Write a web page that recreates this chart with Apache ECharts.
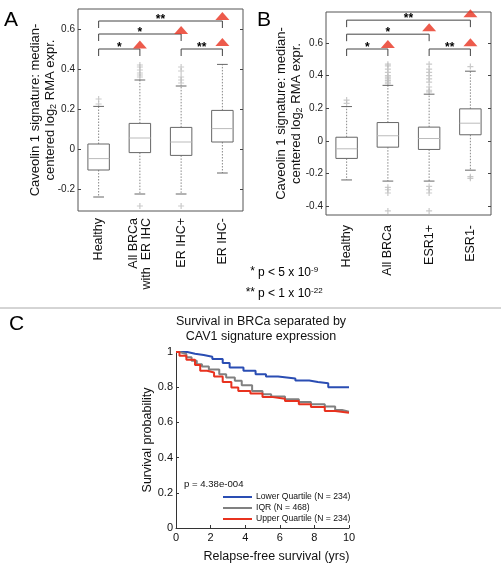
<!DOCTYPE html>
<html><head><meta charset="utf-8">
<script src="https://cdn.jsdelivr.net/npm/echarts@6/dist/echarts.min.js"></script>
<style>html,body{margin:0;padding:0;background:#fff}#c{width:501px;height:570px}</style>
</head><body><div id="c"></div>
<script>
// ---------- DATA ----------
const catsA = ['Healthy', 'All BRCa\nwith  ER IHC', 'ER IHC+', 'ER IHC-'];
const catsB = ['Healthy', 'All BRCa', 'ESR1+', 'ESR1-'];
// [whiskerLow, Q1, median, Q3, whiskerHigh]
const boxA = [
  [-0.24, -0.105, -0.048, 0.025, 0.213],
  [-0.225, -0.018, 0.055, 0.128, 0.345],
  [-0.225, -0.032, 0.035, 0.108, 0.315],
  [-0.12, 0.035, 0.102, 0.193, 0.423]
];
const boxB = [
  [-0.24, -0.108, -0.049, 0.022, 0.21],
  [-0.247, -0.039, 0.031, 0.112, 0.34],
  [-0.247, -0.053, 0.014, 0.084, 0.286],
  [-0.18, 0.037, 0.108, 0.196, 0.427]
];
const outliersA = [[0,0.25],[0,0.225],[1,0.36],[1,0.37],[1,0.38],[1,0.395],[1,0.41],[1,0.42],[1,-0.285],
  [2,0.33],[2,0.345],[2,0.36],[2,0.39],[2,0.41],[2,-0.285]];
const outliersB = [[0,0.25],[0,0.23],
  [1,0.35],[1,0.36],[1,0.37],[1,0.38],[1,0.39],[1,0.40],[1,0.42],[1,0.44],[1,0.46],[1,0.47],[1,-0.285],[1,-0.30],[1,-0.32],[1,-0.43],
  [2,0.30],[2,0.31],[2,0.33],[2,0.36],[2,0.38],[2,0.40],[2,0.42],[2,0.44],[2,0.47],[2,-0.28],[2,-0.30],[2,-0.32],[2,-0.43],
  [3,0.455],[3,-0.22],[3,-0.23]];
// [fromCat, toCat, level, stars]
const bracketsA = [[0,1,0.5,'*'],[0,2,0.575,'*'],[0,3,0.64,'**'],[2,3,0.5,'**']];
const bracketsB = [[0,1,0.563,'*'],[0,2,0.654,'*'],[0,3,0.74,'**'],[2,3,0.563,'**']];
const upMarksA = [[1,0.522],[2,0.595],[3,0.665],[3,0.535]];
const upMarksB = [[1,0.593],[2,0.697],[3,0.783],[3,0.605]];
const yTicksA = [-0.2, 0, 0.2, 0.4, 0.6];
const yTicksB = [-0.4, -0.2, 0, 0.2, 0.4, 0.6];
// Kaplan-Meier curves [years, survival]
const lowerQuartile = [[0,1],[0.65,0.99],[1.1,0.983],[1.6,0.973],[2.1,0.96],[2.7,0.937],[3.1,0.912],[3.9,0.893],[4.6,0.874],[5.2,0.861],[5.9,0.85],[6.9,0.838],[7.7,0.83],[8.2,0.823],[8.8,0.80],[10,0.80]];
const iqr = [[0,1],[0.2,0.989],[0.6,0.97],[0.9,0.95],[1.2,0.93],[1.5,0.918],[1.9,0.9],[2.5,0.874],[2.9,0.855],[3.4,0.836],[3.8,0.811],[4.4,0.779],[5.0,0.76],[5.5,0.747],[6.3,0.731],[7.1,0.716],[7.8,0.703],[8.6,0.69],[9.2,0.67],[9.6,0.661],[10,0.661]];
const upperQuartile = [[0,1],[0.2,0.979],[0.6,0.956],[1.1,0.926],[1.4,0.893],[1.8,0.884],[2.2,0.861],[2.7,0.83],[3.2,0.798],[3.6,0.779],[4.3,0.764],[5.0,0.745],[5.5,0.735],[6.3,0.722],[7.1,0.703],[7.8,0.688],[8.6,0.665],[9.2,0.655],[10,0.655]];
const seriesNames = ['Lower Quartile (N = 234)', 'IQR (N = 468)', 'Upper Quartile (N = 234)'];

// ---------- CHART ----------
const FONT = 'Liberation Sans, Arial, Helvetica, sans-serif';
const chart = echarts.init(document.getElementById('c'), null, {renderer: 'canvas'});

function fmt(v){ return String(+(+v).toFixed(1)); }

function boxRender(params, api){
  const x = api.value(0);
  const lo = api.coord([x, api.value(1)]), q1 = api.coord([x, api.value(2)]),
        md = api.coord([x, api.value(3)]), q3 = api.coord([x, api.value(4)]), hi = api.coord([x, api.value(5)]);
  const bw = api.size([1, 0])[0];
  const hw = bw * 0.26, cw = bw * 0.13;
  const cx = md[0];
  const dash = {stroke: '#888', lineWidth: 1, lineDash: [1.5, 1.5]};
  const solid = {stroke: '#666', lineWidth: 1, fill: null};
  return {type: 'group', children: [
    {type: 'line', shape: {x1: cx, y1: q3[1], x2: cx, y2: hi[1]}, style: dash},
    {type: 'line', shape: {x1: cx, y1: q1[1], x2: cx, y2: lo[1]}, style: dash},
    {type: 'line', shape: {x1: cx - cw, y1: hi[1], x2: cx + cw, y2: hi[1]}, style: solid},
    {type: 'line', shape: {x1: cx - cw, y1: lo[1], x2: cx + cw, y2: lo[1]}, style: solid},
    {type: 'rect', shape: {x: cx - hw, y: q3[1], width: 2 * hw, height: q1[1] - q3[1]}, style: {stroke: '#666', fill: '#fff', lineWidth: 1}},
    {type: 'line', shape: {x1: cx - hw, y1: md[1], x2: cx + hw, y2: md[1]}, style: {stroke: '#bbb', lineWidth: 1}}
  ]};
}

function bracketRender(dropPx){
  return function(params, api){
    const a = api.coord([api.value(0), api.value(2)]);
    const b = api.coord([api.value(1), api.value(2)]);
    const stars = api.value(3);
    const y = a[1];
    return {type: 'group', children: [
      {type: 'polyline', shape: {points: [[a[0], y + dropPx], [a[0], y], [b[0], y], [b[0], y + dropPx]]},
       style: {stroke: '#444', lineWidth: 1, fill: null}},
      {type: 'text', x: (a[0] + b[0]) / 2, y: y - 1,
       style: {text: stars, fill: '#000', font: 'bold 12px ' + FONT, textAlign: 'center', textVerticalAlign: 'middle'}}
    ]};
  };
}

const crossPath = 'path://M4,0H6V4H10V6H6V10H4V6H0V4H4Z';

function boxAxes(gridIdx, cats, ymin, ymax, yticks, labelMargin){
  const common = {gridIndex: gridIdx, type: 'value', min: ymin, max: ymax,
    axisLine: {show: false}, splitLine: {show: false},
    axisTick: {show: true, inside: true, length: 3, lineStyle: {color: '#444'}, customValues: yticks}};
  return {
    x: {gridIndex: gridIdx, type: 'category', data: cats, boundaryGap: true,
      axisLine: {show: false}, axisTick: {show: false}, splitLine: {show: false},
      axisLabel: {rotate: 90, margin: labelMargin, fontSize: 12.5, color: '#111', fontFamily: FONT, interval: 0, lineHeight: 13}},
    yl: Object.assign({}, common, {position: 'left',
      axisLabel: {show: true, margin: 3, fontSize: 10, color: '#222', fontFamily: FONT, customValues: yticks, formatter: fmt}}),
    yr: Object.assign({}, common, {position: 'right', axisLabel: {show: false}})
  };
}

const axA = boxAxes(0, catsA, -0.31, 0.70, yTicksA, 7);
const axB = boxAxes(1, catsB, -0.455, 0.79, yTicksB, 10);
const yName = 'Caveolin 1 signature: median-\ncentered log{sub|2} RMA expr.';
const nameStyle = {fontSize: 13, color: '#111', fontFamily: FONT, lineHeight: 15,
  rich: {sub: {fontSize: 9, fontFamily: FONT, color: '#111', verticalAlign: 'bottom', lineHeight: 15, padding: [6, 0, 0, 0]}}};
Object.assign(axA.yl, {name: yName, nameLocation: 'middle', nameRotate: 90, nameGap: 20, nameMoveOverlap: false, nameTextStyle: nameStyle});
Object.assign(axB.yl, {name: yName, nameLocation: 'middle', nameRotate: 90, nameGap: 22, nameMoveOverlap: false, nameTextStyle: nameStyle});

const survColors = ['#2a4db3', '#808080', '#e8321f'];

const option = {
  animation: false,
  backgroundColor: '#fff',
  textStyle: {fontFamily: FONT},
  grid: [
    {left: 78, top: 9, width: 165, height: 202, show: true, borderColor: '#555', borderWidth: 1, backgroundColor: '#fff', containLabel: false, outerBoundsMode: 'none'},
    {left: 326, top: 12, width: 165, height: 203, show: true, borderColor: '#555', borderWidth: 1, backgroundColor: '#fff', containLabel: false, outerBoundsMode: 'none'},
    {left: 176, top: 352, width: 173, height: 176, containLabel: false, outerBoundsMode: 'none'}
  ],
  xAxis: [axA.x, axB.x,
    {gridIndex: 2, type: 'value', min: 0, max: 10, interval: 2,
      name: 'Relapse-free survival (yrs)', nameLocation: 'middle', nameGap: 22,
      nameTextStyle: {fontSize: 12.5, color: '#111', fontFamily: FONT, padding: [0, 0, 0, 28]},
      axisLine: {show: true, lineStyle: {color: '#333'}}, splitLine: {show: false},
      axisTick: {show: true, inside: true, length: 3, lineStyle: {color: '#333'}},
      axisLabel: {fontSize: 11, color: '#111', margin: 4, fontFamily: FONT}}],
  yAxis: [axA.yl, axA.yr, axB.yl, axB.yr,
    {gridIndex: 2, type: 'value', min: 0, max: 1, interval: 0.2,
      name: 'Survival probability', nameLocation: 'middle', nameRotate: 90, nameGap: 18,
      nameTextStyle: {fontSize: 12.5, color: '#111', fontFamily: FONT},
      axisLine: {show: true, lineStyle: {color: '#333'}}, splitLine: {show: false},
      axisTick: {show: true, inside: true, length: 3, lineStyle: {color: '#333'}},
      axisLabel: {fontSize: 11, color: '#111', margin: 3, fontFamily: FONT, formatter: fmt}}],
  legend: {
    data: seriesNames, orient: 'vertical', left: 223, top: 491.5, itemWidth: 29, itemHeight: 2, itemGap: 0,
    icon: 'rect', padding: 0, selectedMode: false,
    textStyle: {fontSize: 8.6, color: '#111', fontFamily: FONT, lineHeight: 11, padding: [0, 0, 0, -1]}
  },
  series: [
    {type: 'custom', xAxisIndex: 0, yAxisIndex: 0, renderItem: boxRender, clip: false,
      encode: {x: 0, y: [1, 2, 3, 4, 5]}, data: boxA.map((b, i) => [i].concat(b))},
    {type: 'scatter', xAxisIndex: 0, yAxisIndex: 0, symbol: crossPath, symbolSize: 6,
      itemStyle: {color: '#bdbdbd'}, data: outliersA, z: 1},
    {type: 'custom', xAxisIndex: 0, yAxisIndex: 0, renderItem: bracketRender(7), clip: false,
      encode: {x: [0, 1], y: 2}, data: bracketsA},
    {type: 'scatter', xAxisIndex: 0, yAxisIndex: 0, symbol: 'triangle', symbolSize: [14, 8], clip: false,
      itemStyle: {color: '#e8321f'}, data: upMarksA, z: 5},

    {type: 'custom', xAxisIndex: 1, yAxisIndex: 2, renderItem: boxRender, clip: false,
      encode: {x: 0, y: [1, 2, 3, 4, 5]}, data: boxB.map((b, i) => [i].concat(b))},
    {type: 'scatter', xAxisIndex: 1, yAxisIndex: 2, symbol: crossPath, symbolSize: 6,
      itemStyle: {color: '#bdbdbd'}, data: outliersB, z: 1},
    {type: 'custom', xAxisIndex: 1, yAxisIndex: 2, renderItem: bracketRender(7), clip: false,
      encode: {x: [0, 1], y: 2}, data: bracketsB},
    {type: 'scatter', xAxisIndex: 1, yAxisIndex: 2, symbol: 'triangle', symbolSize: [14, 8], clip: false,
      itemStyle: {color: '#e8321f'}, data: upMarksB, z: 5},

    {type: 'line', name: seriesNames[0], xAxisIndex: 2, yAxisIndex: 4, step: 'end', showSymbol: false, symbol: 'none',
      color: survColors[0], lineStyle: {width: 2, color: survColors[0]}, data: lowerQuartile},
    {type: 'line', name: seriesNames[1], xAxisIndex: 2, yAxisIndex: 4, step: 'end', showSymbol: false, symbol: 'none',
      color: survColors[1], lineStyle: {width: 2, color: survColors[1]}, data: iqr},
    {type: 'line', name: seriesNames[2], xAxisIndex: 2, yAxisIndex: 4, step: 'end', showSymbol: false, symbol: 'none',
      color: survColors[2], lineStyle: {width: 2, color: survColors[2]}, data: upperQuartile}
  ],
  graphic: [
    {type: 'text', left: 4, top: 10, style: {text: 'A', font: '21px ' + FONT, fill: '#000'}},
    {type: 'text', left: 257, top: 10, style: {text: 'B', font: '21px ' + FONT, fill: '#000'}},
    {type: 'text', left: 9, top: 314, style: {text: 'C', font: '21px ' + FONT, fill: '#000'}},
    {type: 'text', x: 255, y: 272, style: {text: '*', font: '12px ' + FONT, fill: '#000', textAlign: 'right', textVerticalAlign: 'middle'}},
    {type: 'text', x: 255, y: 293, style: {text: '**', font: '12px ' + FONT, fill: '#000', textAlign: 'right', textVerticalAlign: 'middle'}},
    {type: 'text', x: 258, y: 266, style: {text: 'p < 5 x 10{sup|-9}', font: '12px ' + FONT, fill: '#000',
      rich: {sup: {fontSize: 8, fontFamily: FONT, fill: '#000', verticalAlign: 'top', padding: [0, 0, 6, 0]}}}},
    {type: 'text', x: 258, y: 287, style: {text: 'p < 1 x 10{sup|-22}', font: '12px ' + FONT, fill: '#000',
      rich: {sup: {fontSize: 8, fontFamily: FONT, fill: '#000', verticalAlign: 'top', padding: [0, 0, 6, 0]}}}},
    {type: 'line', shape: {x1: 0, y1: 308, x2: 501, y2: 308}, style: {stroke: '#aaa', lineWidth: 1}},
    {type: 'text', x: 261, y: 329, style: {text: 'Survival in BRCa separated by\nCAV1 signature expression', font: '12.5px ' + FONT,
      fill: '#111', textAlign: 'center', textVerticalAlign: 'middle', lineHeight: 15}},
    {type: 'text', x: 184, y: 484, style: {text: 'p = 4.38e-004', font: '9.6px ' + FONT, fill: '#111', textVerticalAlign: 'middle'}}
  ]
};
chart.setOption(option);
</script></body></html>
